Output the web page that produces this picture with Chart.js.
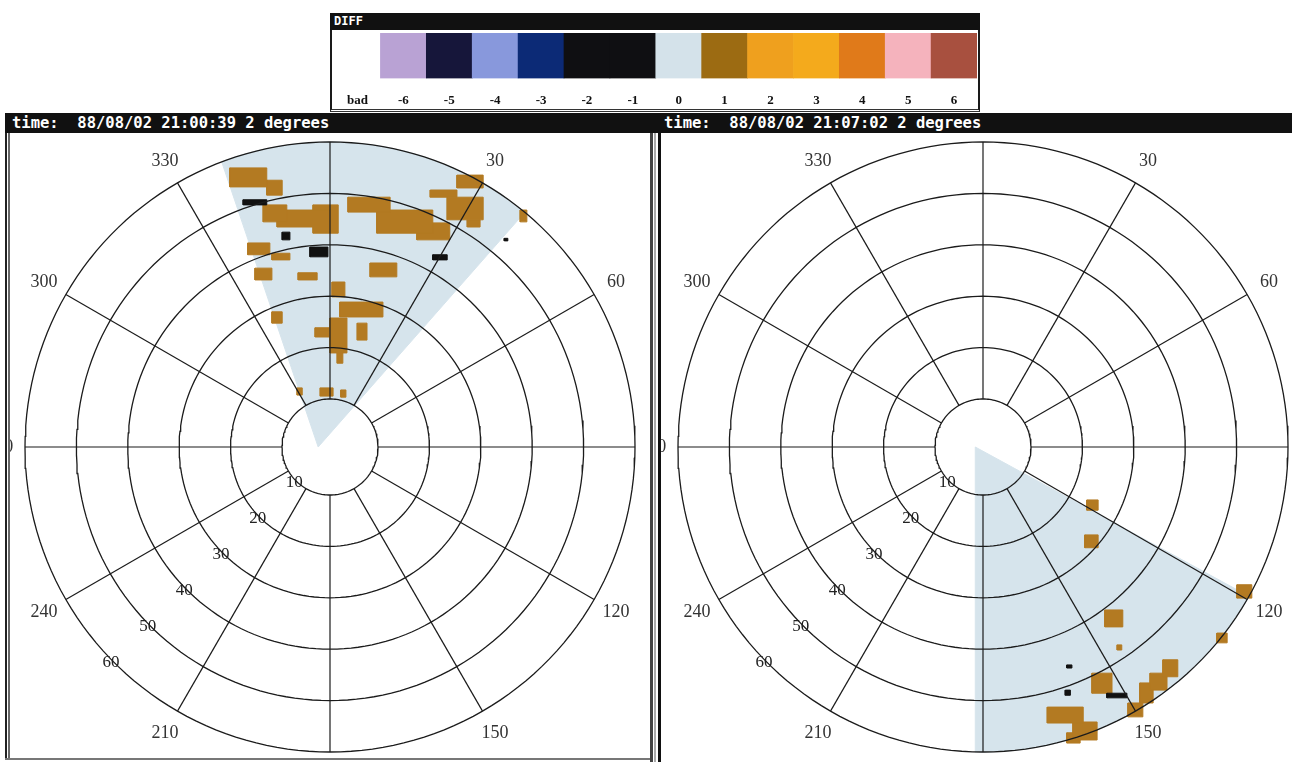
<!DOCTYPE html>
<html>
<head>
<meta charset="utf-8">
<script src="https://cdn.jsdelivr.net/npm/chart.js@4/dist/chart.umd.min.js"></script>
<style>
  html, body { margin:0; padding:0; background:#fff; }
  body { width:1292px; height:762px; position:relative; overflow:hidden; }
  .abs { position:absolute; }
  .title { color:#fff; font-family:"DejaVu Sans Mono", monospace; font-weight:bold; font-size:15.5px; line-height:20px; white-space:pre; }
</style>
</head>
<body>
<!-- legend box -->
<div class="abs" style="left:330px;top:13px;width:646px;height:96px;border:2px solid #1a1a1a;border-top:none;border-bottom:3px double #333;"></div>
<div class="abs" style="left:330px;top:13px;width:650px;height:17px;background:#111;"></div>
<div class="abs" id="legendTitle" style="left:334px;top:13px;line-height:17px;color:#fff;font-family:'DejaVu Sans Mono',monospace;font-weight:bold;font-size:12px;"></div>
<canvas id="legend" class="abs" width="644" height="92" style="left:333px;top:30px;"></canvas>

<!-- title bar -->
<div class="abs" style="left:5px;top:113px;width:1287px;height:20px;background:#111;"></div>
<div class="abs title" id="titleL" style="left:12px;top:113px;"></div>
<div class="abs title" id="titleR" style="left:664px;top:113px;"></div>

<!-- panel frames -->
<div class="abs" style="left:5px;top:133px;width:2px;height:627px;background:#222;"></div>
<div class="abs" style="left:8px;top:133px;width:2px;height:627px;background:#666;"></div>
<div class="abs" style="left:5px;top:758px;width:648px;height:2px;background:#777;"></div>
<div class="abs" style="left:650px;top:133px;width:3px;height:629px;background:#444;"></div>
<div class="abs" style="left:654px;top:133px;width:2px;height:629px;background:#aaa;"></div>
<div class="abs" style="left:658px;top:133px;width:3px;height:629px;background:#111;"></div>

<canvas id="left" class="abs" width="640" height="627" style="left:10px;top:133px;"></canvas>
<canvas id="right" class="abs" width="631" height="627" style="left:661px;top:133px;"></canvas>

<script>
// ---------------- data ----------------
const LEGEND_TITLE = 'DIFF';
const LEGEND_LABELS = ['bad','-6','-5','-4','-3','-2','-1','0','1','2','3','4','5','6'];
const LEGEND_VALUES = [1,1,1,1,1,1,1,1,1,1,1,1,1,1];
const LEGEND_COLORS = ['#ffffff','#b9a2d4','#16163a','#8898dc','#0c2a76','#0f0f12','#0f0f12',
                       '#d4e2ea','#9c6b12','#efa01e','#f4aa1c','#e07a1a','#f5b3bd','#a8503f'];

const TITLE_LEFT  = 'time:  88/08/02 21:00:39 2 degrees';
const TITLE_RIGHT = 'time:  88/08/02 21:07:02 2 degrees';

const RING_RANGES    = [10, 20, 30, 40, 50, 60];          // km
const SPOKE_AZIMUTHS = [0, 30, 60, 90, 120, 150, 180, 210, 240, 270, 300, 330];
const AZ_LABELS      = [0, 30, 60, 90, 120, 150, 180, 210, 240, 270, 300, 330];
const RANGE_LABELS   = [10, 20, 30, 40, 50, 60];
const RANGE_LABEL_AZ = 225.5;
const AZ_LABEL_RANGE = 64.9;
const SECTOR_RANGE   = 60;
const RANGE_ZERO     = 0.66;

// scanned sectors: [azimuth from, azimuth to], apex [east km, north km]
const LEFT_SECTOR  = [339.2, 399.7];
const LEFT_APEX    = [-2.3, 0];
const RIGHT_SECTOR = [119.3, 181.5];
const RIGHT_APEX   = [-1.5, 0];

// echoes with DIFF = +1 : [east1, east2, north1, north2] km
const LEFT_ECHO_P1 = [
  [-19.5,-12.3,50.6,54.3], [-12.3,-9.3,49.0,51.9],
  [-13.0,-8.4,43.8,47.1], [-10.3,0,42.8,46.1], [-3.3,1.6,41.6,47.1],
  [3.5,11.7,45.7,48.6], [9.1,20.0,41.6,46.1], [16.9,23.3,40.3,43.6],
  [24.7,29.8,50.4,52.9], [19.5,24.7,48.6,50.0], [22.8,29.8,44.2,48.6],
  [26.7,29.2,42.8,44.2], [37.0,38.3,43.8,46.1],
  [-16.0,-11.7,37.4,39.7], [-11.3,-7.8,36.4,37.7],
  [-14.6,-11.3,32.5,34.8], [-6.2,-2.5,32.5,33.9], [7.8,13.0,33.1,35.8],
  [0.4,2.9,29.2,32.1], [1.9,10.3,25.3,28.2], [5.3,7.2,20.8,24.1],
  [0,3.3,18.3,25.1], [-2.9,0,21.4,23.2], [1.4,2.5,16.3,18.3],
  [-11.3,-9.3,24.1,26.3],
  [-6.4,-5.4,10.1,11.5], [-1.9,0.6,9.9,11.5], [2.1,3.1,9.7,11.1]
];
// echoes with DIFF = -2 / -1 (black)
const LEFT_ECHO_N = [
  [-16.9,-12.3,47.1,48.1], [-9.3,-7.8,40.3,41.8], [-3.9,-0.4,37.0,38.9],
  [33.9,34.6,40.1,40.6], [20.0,22.8,36.4,37.4]
];
const RIGHT_ECHO_P1 = [
  [20.2,22.4,-12.3,-10.3], [19.8,22.4,-19.6,-17.1], [49.4,52.3,-29.4,-26.8],
  [23.7,27.2,-35.0,-31.7], [26.1,27.0,-39.5,-38.5], [45.5,47.5,-38.1,-36.2],
  [21.2,25.1,-47.9,-44.0], [35.0,37.9,-44.7,-41.4], [32.5,35.8,-47.3,-44.0],
  [30.5,33.1,-49.8,-45.9], [28.2,31.1,-52.5,-49.8], [12.5,19.5,-53.7,-50.6],
  [17.5,22.2,-57.0,-53.5], [16.3,18.9,-57.6,-55.6]
];
const RIGHT_ECHO_N = [
  [16.0,17.0,-48.3,-47.3], [16.3,17.3,-43.0,-42.4], [24.1,28.0,-48.8,-47.9]
];

// ---------------- helpers ----------------
const ECHO_COLOR = '#b37a22';
const NEG_COLOR = '#111111';
const SECTOR_COLOR = '#d6e4ec';
const GRID_COLOR = '#1b1b1b';

function toXY(az, rng) {
  const r = rng - RANGE_ZERO, a = az * Math.PI / 180;
  return { x: r * Math.sin(a), y: r * Math.cos(a) };
}
function rectPts(b) {
  return [{x:b[0],y:b[2]},{x:b[1],y:b[2]},{x:b[1],y:b[3]},{x:b[0],y:b[3]},{x:b[0],y:b[2]}];
}
function lineDs(pts, color, w, order) {
  return { data: pts, showLine: true, fill: false, borderColor: color, borderWidth: w,
           pointRadius: 0, pointHoverRadius: 0, order };
}
function shapeDs(pts, color, order) {
  return { data: pts, showLine: true, fill: 'shape', backgroundColor: color, borderColor: color,
           borderWidth: 1, pointRadius: 0, pointHoverRadius: 0, order };
}
function panelDatasets(p) {
  const ds = [];
  RING_RANGES.forEach(r => {
    const pts = [];
    for (let a = 0; a <= 360; a += 2) pts.push(toXY(a, r));
    ds.push(lineDs(pts, GRID_COLOR, 1.3, 0));
  });
  SPOKE_AZIMUTHS.forEach(a => {
    ds.push(lineDs([toXY(a, RING_RANGES[0]), toXY(a, RING_RANGES[RING_RANGES.length - 1])], GRID_COLOR, 1.2, 0));
  });
  p.neg.forEach(b => ds.push(shapeDs(rectPts(b), NEG_COLOR, 1)));
  p.echo.forEach(b => ds.push(shapeDs(rectPts(b), ECHO_COLOR, 2)));
  const sp = [{ x: p.apex[0], y: p.apex[1] }];
  for (let a = p.sector[0]; a < p.sector[1]; a += 1) sp.push(toXY(a, SECTOR_RANGE));
  sp.push(toXY(p.sector[1], SECTOR_RANGE));
  sp.push({ x: p.apex[0], y: p.apex[1] });
  ds.push(shapeDs(sp, SECTOR_COLOR, 3));
  return ds;
}

const labelPlugin = {
  id: 'polarLabels',
  afterDatasetsDraw(chart) {
    const { ctx, scales: { x, y } } = chart;
    ctx.save();
    ctx.textAlign = 'center';
    ctx.textBaseline = 'middle';
    ctx.fillStyle = '#333';
    ctx.font = '18px "Liberation Serif", serif';
    AZ_LABELS.forEach(a => {
      const p = toXY(a, AZ_LABEL_RANGE);
      ctx.fillText(String(a), x.getPixelForValue(p.x), y.getPixelForValue(p.y));
    });
    ctx.fillStyle = '#222';
    ctx.font = '17px "Liberation Serif", serif';
    RANGE_LABELS.forEach(r => {
      const p = toXY(RANGE_LABEL_AZ, r + 0.4);
      ctx.fillText(String(r), x.getPixelForValue(p.x), y.getPixelForValue(p.y));
    });
    ctx.restore();
  }
};

function makePanel(id, p) {
  new Chart(document.getElementById(id), {
    type: 'scatter',
    data: { datasets: panelDatasets(p) },
    options: {
      responsive: false, animation: false, events: [],
      layout: { padding: 0 },
      plugins: { legend: { display: false }, tooltip: { enabled: false } },
      scales: {
        x: { type: 'linear', display: false, min: p.xr[0], max: p.xr[1] },
        y: { type: 'linear', display: false, min: p.yr[0], max: p.yr[1] }
      }
    },
    plugins: [labelPlugin]
  });
}

// ---------------- build ----------------
document.getElementById('legendTitle').textContent = LEGEND_TITLE;
document.getElementById('titleL').textContent = TITLE_LEFT;
document.getElementById('titleR').textContent = TITLE_RIGHT;

new Chart(document.getElementById('legend'), {
  type: 'bar',
  data: { labels: LEGEND_LABELS,
          datasets: [{ data: LEGEND_VALUES, backgroundColor: LEGEND_COLORS, borderWidth: 0,
                       barPercentage: 1, categoryPercentage: 1 }] },
  options: {
    responsive: false, animation: false, events: [],
    layout: { padding: { top: 3, bottom: 0, left: 0, right: 0 } },
    plugins: { legend: { display: false }, tooltip: { enabled: false } },
    scales: {
      x: { grid: { display: false, drawTicks: false }, border: { display: false },
           ticks: { padding: 14, color: '#111', font: { family: '"Liberation Serif", serif', size: 13, weight: 'bold' } } },
      y: { display: false, min: 0, max: 1 }
    }
  }
});

const PX = 5.14; // px per km (layout)
makePanel('left',  { sector: LEFT_SECTOR,  apex: LEFT_APEX,  echo: LEFT_ECHO_P1,  neg: LEFT_ECHO_N,
                     xr: [-320 / PX, 320 / PX], yr: [-313 / PX, 314 / PX] });
makePanel('right', { sector: RIGHT_SECTOR, apex: RIGHT_APEX, echo: RIGHT_ECHO_P1, neg: RIGHT_ECHO_N,
                     xr: [-322 / PX, 309 / PX], yr: [-313 / PX, 314 / PX] });
</script>
</body>
</html>
